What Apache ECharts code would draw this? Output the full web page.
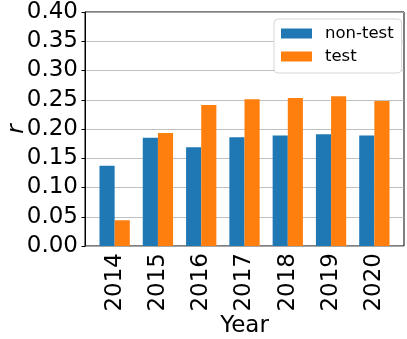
<!DOCTYPE html>
<html>
<head>
<meta charset="utf-8">
<script src="https://cdn.jsdelivr.net/npm/echarts@6/dist/echarts.min.js"></script>
<style>
	html, body { margin: 0; padding: 0; background: #fff; }
	#chart { width: 407px; height: 339px; }
</style>
</head>
<body>
<div id="chart"></div>
<script>
var years = ['2014', '2015', '2016', '2017', '2018', '2019', '2020'];
var nonTest = [0.137, 0.185, 0.169, 0.186, 0.189, 0.191, 0.189];
var test = [0.044, 0.193, 0.241, 0.251, 0.253, 0.256, 0.248];
var yTicks = [0, 0.05, 0.10, 0.15, 0.20, 0.25, 0.30, 0.35, 0.40];

var font = 'DejaVu Sans';
var myChart = echarts.init(document.getElementById('chart'));
var option = {
	animation: false,
	textStyle: { fontFamily: font },
	grid: [{
		// frame of the axes
		left: 85, right: 3, top: 12, bottom: 93,
		outerBoundsMode: 'none',
		containLabel: false,
		show: true,
		borderColor: '#000',
		borderWidth: 1,
		backgroundColor: 'transparent'
	}, {
		// bars area, inset like matplotlib margins
		left: 93, right: 11, top: 12, bottom: 93,
		outerBoundsMode: 'none',
		containLabel: false
	}],
	legend: {
		orient: 'vertical',
		left: 274,
		top: 19,
		padding: [6, 8, 8, 7],
		itemWidth: 31,
		itemHeight: 10,
		itemGap: 6,
		icon: 'rect',
		backgroundColor: '#fff',
		borderColor: '#d6d6d6',
		borderWidth: 1,
		borderRadius: 4,
		textStyle: {
			fontFamily: font,
			fontSize: 16.5,
			color: '#000',
			padding: [0, 0, 0, 8]
		},
		data: ['non-test', 'test']
	},
	xAxis: [{
		gridIndex: 0,
		type: 'value',
		min: 0,
		max: 1,
		show: false
	}, {
		gridIndex: 1,
		type: 'category',
		data: years,
		name: 'Year',
		nameLocation: 'middle',
		nameGap: 69,
		nameMoveOverlap: false,
		nameTextStyle: { fontFamily: font, fontSize: 23, color: '#000' },
		axisLine: { show: false },
		axisTick: { alignWithLabel: true, length: 3.5, lineStyle: { color: '#000' } },
		axisLabel: {
			rotate: 90,
			interval: 0,
			margin: 7,
			fontFamily: font,
			fontSize: 23,
			color: '#000'
		}
	}],
	yAxis: [{
		gridIndex: 0,
		type: 'value',
		min: yTicks[0],
		max: yTicks[yTicks.length - 1],
		interval: 0.05,
		axisLine: { show: true, lineStyle: { color: '#000' } },
		axisTick: { show: true, length: 3.5, lineStyle: { color: '#000' } },
		axisLabel: {
			margin: 7,
			fontFamily: font,
			fontSize: 23,
			color: '#000',
			formatter: function(v) { return v.toFixed(2); }
		},
		splitLine: { show: true, lineStyle: { color: '#b0b0b0', width: 0.8 } }
	}, {
		// carries only the axis title, so it is not pushed by tick labels
		gridIndex: 1,
		type: 'value',
		min: yTicks[0],
		max: yTicks[yTicks.length - 1],
		name: 'r',
		nameLocation: 'middle',
		nameRotate: 90,
		nameGap: 64,
		nameMoveOverlap: false,
		nameTextStyle: { fontFamily: font, fontSize: 23, fontStyle: 'italic', color: '#000' },
		axisLine: { show: false },
		axisTick: { show: false },
		axisLabel: { show: false },
		splitLine: { show: false }
	}],
	series: [{
		name: 'non-test',
		type: 'bar',
		xAxisIndex: 1,
		yAxisIndex: 1,
		barWidth: '35%',
		barGap: '0%',
		itemStyle: { color: '#1f77b4' },
		data: nonTest
	}, {
		name: 'test',
		type: 'bar',
		xAxisIndex: 1,
		yAxisIndex: 1,
		barWidth: '35%',
		barGap: '0%',
		itemStyle: { color: '#ff7f0e' },
		data: test
	}]
};
myChart.setOption(option);
</script>
</body>
</html>
